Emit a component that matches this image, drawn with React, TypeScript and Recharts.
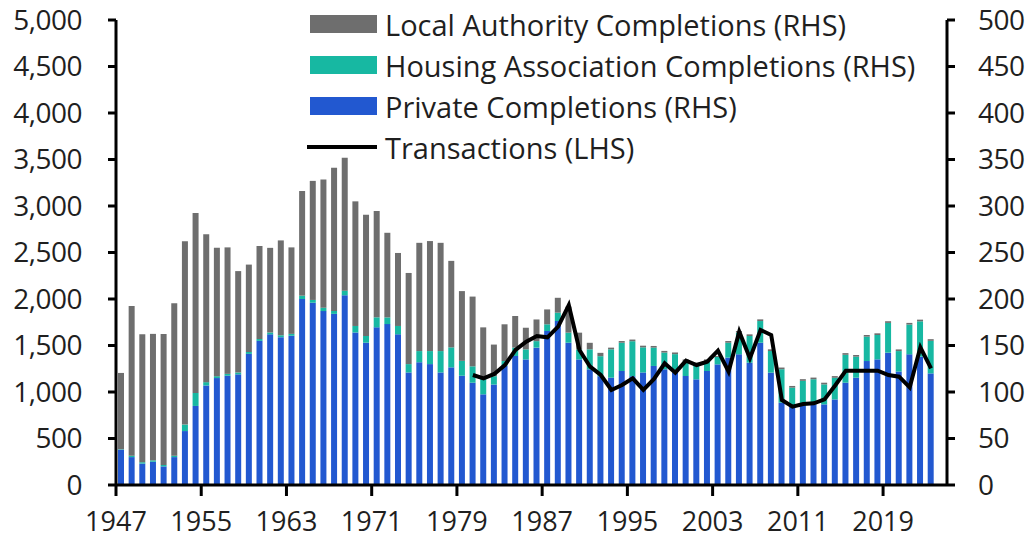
import React from 'react';
import { ComposedChart, Bar, Line, XAxis, YAxis, Legend } from 'recharts';

const years: number[] = [];
for (let y = 1947; y <= 2024; y++) years.push(y);

// Completions, thousands (RHS), 1947..2023
const privateCompletions = [
  38, 30, 23, 25, 20, 30, 58, 85, 107, 115,
  117.5, 119, 141, 155, 162, 159, 160.5, 200, 196, 187,
  184, 204, 164, 153, 169.5, 173, 162, 121, 132, 130,
  121, 126.5, 117.5, 110, 97.5, 108, 128, 138.7, 135, 147.7,
  165.6, 176.3, 153, 135, 124.4, 117, 115.4, 122.6, 117, 121,
  128, 124.4, 121, 117.2, 113.6, 122.6, 129.7, 137, 140.5, 131.5,
  153, 120.8, 88.5, 85, 85, 86.7, 86.7, 92, 110, 115.4,
  133.3, 135.1, 142.3, 122, 140.5, 138, 120,
];
const haCompletions = [
  0.5, 1.5, 1.5, 1.5, 1.5, 1.5, 7, 14, 3.6, 2,
  2, 2, 2, 2, 2, 2, 2, 3.6, 3, 3.6,
  3.2, 5, 7, 7.2, 10.8, 7.2, 9, 9, 12, 14,
  23, 21.5, 16, 17.6, 18, 9, 5.3, 9, 10.8, 7,
  7.2, 9, 10.8, 10.8, 21.5, 21.5, 30.5, 30.4, 37.6, 27,
  19.7, 18, 19.7, 16, 16, 10.7, 8, 16, 23.3, 28.7,
  23.3, 23.3, 36, 19.7, 27, 27, 21.5, 23.3, 30, 22.6,
  26.2, 26.2, 32, 22, 32, 38, 35,
];
const laCompletions = [
  82, 161, 137.5, 136, 141, 164, 197, 193.5, 159, 138,
  136, 109, 94, 100, 91, 102, 93, 112.5, 128, 138,
  154, 143, 134, 130.4, 114.3, 91, 78.5, 98, 116.4, 118.3,
  116.4, 93, 75, 75, 54, 34, 39.5, 34, 23.3, 23.3,
  16, 16, 28, 18, 7, 3.6, 1.8, 1.8, 1.8, 1.8,
  1.8, 1.8, 1.8, 1.8, 1.8, 1.8, 1, 1.8, 1.8, 1.8,
  1.8, 1.8, 1.8, 1.8, 1.8, 1.8, 1.8, 1.8, 1.8, 1.8,
  1.8, 1.8, 1.8, 1.8, 1.8, 1.8, 1.8,
];
// Transactions, thousands (LHS), 1980..2023
const transactionsStart = 1980;
const transactions = [
  1183, 1147, 1194, 1290, 1452, 1541, 1602, 1588, 1703, 1935,
  1452, 1272, 1183, 1022, 1075, 1147, 1022, 1140, 1308, 1208,
  1337, 1290, 1326, 1444, 1219, 1649, 1362, 1667, 1613, 914,
  842, 871, 878, 920, 1070, 1229, 1229, 1229, 1229, 1183,
  1165, 1050, 1480, 1254,
];

const leftTicks = [0, 500, 1000, 1500, 2000, 2500, 3000, 3500, 4000, 4500, 5000];
const rightTicks = [0, 50, 100, 150, 200, 250, 300, 350, 400, 450, 500];

const data = years.map((year, i) => {
  const t = year - transactionsStart;
  return {
    year,
    priv: privateCompletions[i] ?? null,
    ha: haCompletions[i] ?? null,
    la: laCompletions[i] ?? null,
    tx: t >= 0 && t < transactions.length ? transactions[t] : null,
  };
});

const W = 1029;
const H = 541;
const MARGIN = { top: 20, right: 0, bottom: 6, left: 16 };
const LEFT_W = 100;
const RIGHT_W = 82;
const HALF_BAND = (W - MARGIN.left - MARGIN.right - LEFT_W - RIGHT_W) / years.length / 2;

const FONT = '"Open Sans", sans-serif';
const TEXT = '#1f1f1f';
const GRAY = '#6e6e6e';
const TEAL = '#17b8a2';
const BLUE = '#2258d0';

const legendItems = [
  { label: 'Local Authority Completions (RHS)', color: GRAY, kind: 'rect' },
  { label: 'Housing Association Completions (RHS)', color: TEAL, kind: 'rect' },
  { label: 'Private Completions (RHS)', color: BLUE, kind: 'rect' },
  { label: 'Transactions (LHS)', color: '#000', kind: 'line' },
];

const LegendContent = () => (
  <svg width={700} height={170} style={{ display: 'block' }}>
    {legendItems.map((it, i) => {
      const cy = 20 + i * 41;
      return (
        <g key={it.label}>
          {it.kind === 'rect' ? (
            <rect x={5} y={cy - 9} width={67} height={18} fill={it.color} />
          ) : (
            <line x1={2} x2={72} y1={cy} y2={cy} stroke={it.color} strokeWidth={4} />
          )}
          <text x={80} y={cy} dominantBaseline="central" fontFamily={FONT} fontSize={29} fill={TEXT}>
            {it.label}
          </text>
        </g>
      );
    })}
  </svg>
);

const XTick = (props: any) => {
  const { x, y, payload } = props;
  const cx = x - HALF_BAND;
  return (
    <g>
      <line x1={cx} x2={cx} y1={y} y2={y + 11} stroke="#000" strokeWidth={3} />
      <text x={cx} y={y + 46} textAnchor="middle" fontFamily={FONT} fontSize={27} fill={TEXT}>
        {payload.value}
      </text>
    </g>
  );
};

const fmt = (v: number) => v.toLocaleString('en-US');

export default function App() {
  return (
    <div style={{ position: 'absolute', left: 0, top: 0, background: '#fff' }}>
      <ComposedChart width={W} height={H} data={data} margin={MARGIN} barGap={0}>
        <XAxis
          dataKey="year"
          xAxisId="x"
          interval={7}
          tickLine={false}
          tickSize={0}
          tickMargin={0}
          height={50}
          axisLine={{ stroke: '#000', strokeWidth: 3 }}
          tick={<XTick />}
        />
        <YAxis
          yAxisId="left"
          orientation="left"
          width={LEFT_W}
          domain={[0, 5000]}
          ticks={leftTicks}
          tickFormatter={fmt}
          tickSize={8}
          tickMargin={26}
          axisLine={{ stroke: '#000', strokeWidth: 3 }}
          tickLine={{ stroke: '#000', strokeWidth: 3 }}
          tick={{ fontSize: 28, fontFamily: FONT, fill: TEXT, letterSpacing: -0.5 }}
          interval={0}
        />
        <YAxis
          yAxisId="right"
          orientation="right"
          width={RIGHT_W}
          domain={[0, 500]}
          ticks={rightTicks}
          tickSize={8}
          tickMargin={23}
          axisLine={{ stroke: '#000', strokeWidth: 3 }}
          tickLine={{ stroke: '#000', strokeWidth: 3 }}
          tick={{ fontSize: 28, fontFamily: FONT, fill: TEXT, letterSpacing: -0.5, textAnchor: 'start' }}
          interval={0}
        />
        <Legend
          layout="vertical"
          align="center"
          verticalAlign="middle"
          content={<LegendContent />}
          wrapperStyle={{ left: 305, top: 4, width: 700, height: 170 }}
        />
        <Bar dataKey="priv" name="Private Completions (RHS)" stackId="c" xAxisId="x" yAxisId="right" fill={BLUE} barSize={6} isAnimationActive={false} />
        <Bar dataKey="ha" name="Housing Association Completions (RHS)" stackId="c" xAxisId="x" yAxisId="right" fill={TEAL} barSize={6} isAnimationActive={false} />
        <Bar dataKey="la" name="Local Authority Completions (RHS)" stackId="c" xAxisId="x" yAxisId="right" fill={GRAY} barSize={6} isAnimationActive={false} />
        <Line
          dataKey="tx"
          name="Transactions (LHS)"
          xAxisId="x"
          yAxisId="left"
          type="linear"
          stroke="#000"
          strokeWidth={4}
          dot={false}
          connectNulls={false}
          isAnimationActive={false}
        />
      </ComposedChart>
    </div>
  );
}
